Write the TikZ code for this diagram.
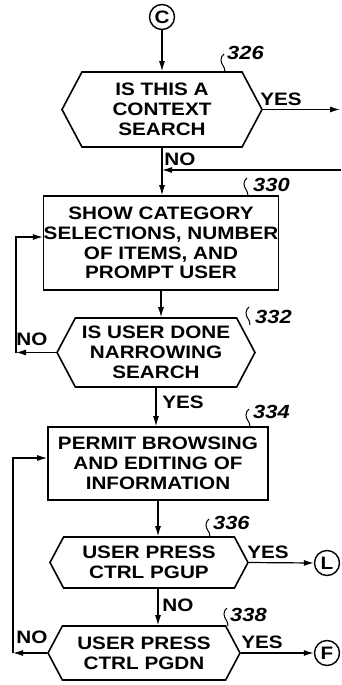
\documentclass[tikz,border=0pt]{standalone}
\usepackage{fontspec}
\setmainfont{Liberation Sans}[FakeStretch=1.15]
\usetikzlibrary{shapes.symbols,arrows.meta}
\begin{document}
\begin{tikzpicture}[x=1pt,y=-1pt,
  txt/.style={font=\fontsize{18}{19.8}\selectfont\bfseries, align=center},
  hex/.style={txt, shape=signal, signal to=east and west, draw, line width=1.6pt, inner sep=0pt, signal pointer angle=124},
  boxn/.style={txt, rectangle, draw, line width=1.6pt, inner sep=0pt},
  conn/.style={txt, circle, draw, line width=1.4pt, minimum size=25pt, inner sep=0pt},
  arr/.style={line width=1.2pt, -{Latex[length=10pt,width=6pt]}},
  lbl/.style={font=\fontsize{18}{19}\selectfont\bfseries, inner sep=0pt},
  num/.style={font=\fontsize{19}{19}\selectfont\bfseries\itshape, inner sep=0pt, anchor=west},
  tick/.style={line width=1pt}
]
\useasboundingbox (0,0) rectangle (341,685);

% nodes
\node[conn] (c) at (162,17) {C};
\node[hex, minimum width=200pt, minimum height=75pt] (h326) at (162,109.5) {IS THIS A\\CONTEXT\\SEARCH};
\node[boxn, minimum width=222pt, minimum height=94pt] (b330) at (161,243) {SHOW CATEGORY\\SELECTIONS, NUMBER\\OF ITEMS, AND\\PROMPT USER};
\node[hex, minimum width=198pt, minimum height=69pt] (h332) at (156,352.5) {IS USER DONE\\NARROWING\\SEARCH};
\node[boxn, minimum width=220pt, minimum height=73pt] (b334) at (158,463.5) {PERMIT BROWSING\\AND EDITING OF\\INFORMATION};
\node[hex, minimum width=198pt, minimum height=51pt] (h336) at (149,562.5) {USER PRESS\\CTRL PGUP};
\node[hex, minimum width=192pt, minimum height=54pt] (h338) at (144,653) {USER PRESS\\CTRL PGDN};
\node[conn] (l) at (327,563) {L};
\node[conn] (f) at (327,653) {F};

% labels
\node[lbl] (y326) at (281,99) {YES};
\node[lbl] (n326l) at (180,159) {NO};
\node[lbl] (n332l) at (32,339) {NO};
\node[lbl] (y332) at (183,402) {YES};
\node[lbl] (y336) at (268,552) {YES};
\node[lbl] (n336l) at (178,605) {NO};
\node[lbl] (y338) at (262,642) {YES};
\node[lbl] (n338l) at (32,637) {NO};

% reference numerals
\node[num] (r326) at (227,53) {326};
\node[num] (r330) at (253,185) {330};
\node[num] (r332) at (255,317) {332};
\node[num] (r334) at (253,412) {334};
\node[num] (r336) at (213,523) {336};
\node[num] (r338) at (230,615) {338};

% free coordinates
\coordinate (e326) at (340,110);
\coordinate (r1) at (341,170);
\coordinate (lx1) at (16,237);
\coordinate (lx2) at (13,458);
\coordinate (t326) at (225,72);
\coordinate (t330) at (248,196);
\coordinate (t332) at (250,325);
\coordinate (t334) at (250,427);
\coordinate (t336) at (210,537);
\coordinate (t338) at (228,626);

% connectors
\draw[arr] (c.south) -- (c.south |- h326.north);
\draw[arr] (h326.east) -- (h326.east -| e326);
\draw[arr] (h326.south) -- (h326.south |- b330.north);
\draw[arr] (r1) -- (r1 -| h326.south);
\draw[arr] (b330.south) -- (b330.south |- h332.north);
\draw[arr] (h332.west) -- (h332.west -| lx1);
\draw[arr] (h332.west -| lx1) -- (lx1) -- (lx1 -| b330.west);
\draw[arr] (h332.south) -- (h332.south |- b334.north);
\draw[arr] (b334.south) -- (b334.south |- h336.north);
\draw[arr] (h336.south -| b334.south) -- (h338.north -| b334.south);
\draw[arr] (h336.east) -- (l.west);
\draw[arr] (h338.east) -- (f.west);
\draw[arr] (h338.west) -- (h338.west -| lx2);
\draw[arr] (h338.west -| lx2) -- (lx2) -- (lx2 -| b334.west);

% leader ticks
\foreach \t in {t326,t330,t332,t334,t336,t338}
  \draw[tick] (\t) .. controls +(0,-6) and +(0,5) .. ++(-4,-12) .. controls +(0,-3) and +(-2,2) .. ++(3,-6);
\end{tikzpicture}
\end{document}
